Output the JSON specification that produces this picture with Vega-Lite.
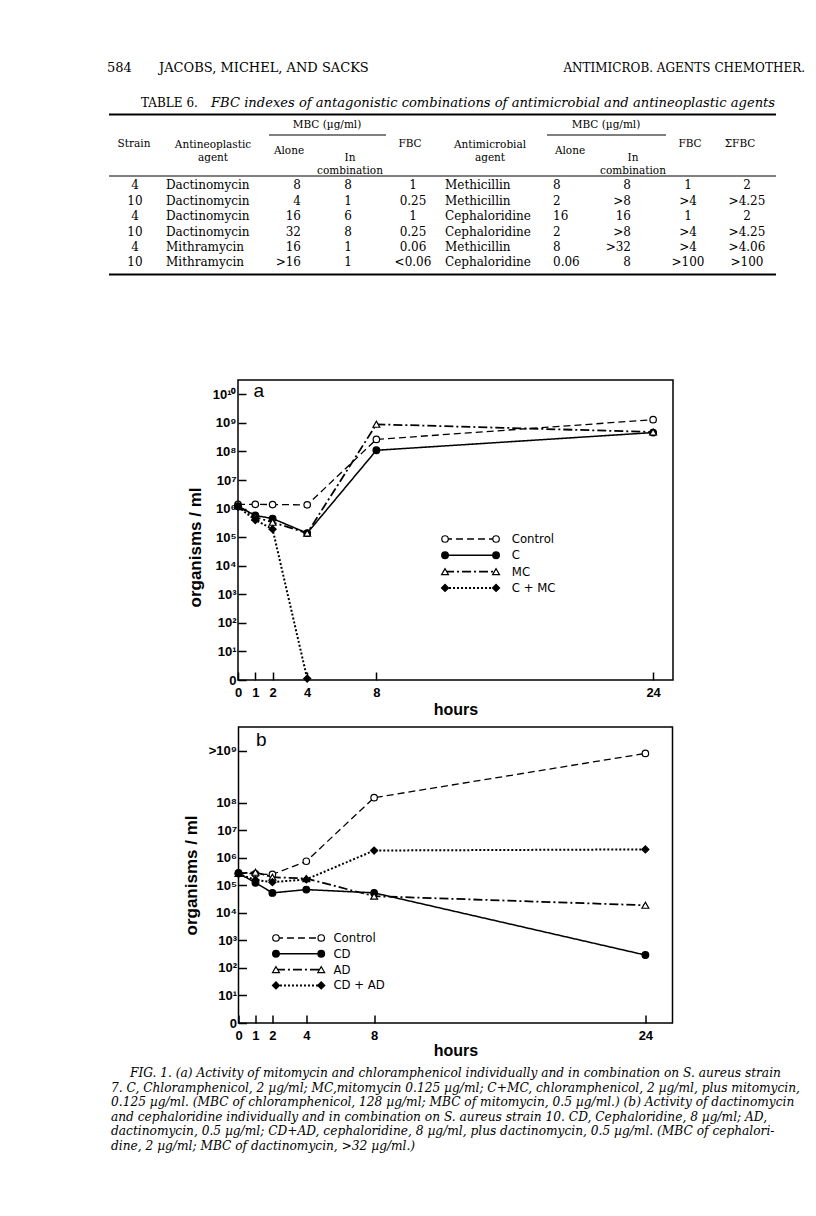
{
  "$schema": "https://vega.github.io/schema/vega-lite/v6.json",
  "background": "white",
  "padding": {"left": 107, "top": 43, "right": 5, "bottom": 5},
  "bounds": "flush",
  "center": true,
  "spacing": 47,
  "config": {"view": {"stroke": null}, "axis": {"grid": false}},
  "resolve": {"scale": {"strokeDash": "independent", "shape": "independent", "fill": "independent", "size": "independent", "strokeWidth": "independent"}},
  "datasets": {
    "table": [
      {"row": 0, "strain": "4", "agent1": "Dactinomycin", "alone1": "8", "comb1": "8", "fbc1": "1", "agent2": "Methicillin", "alone2": "8", "comb2": "8", "fbc2": "1", "sum": "2"},
      {"row": 1, "strain": "10", "agent1": "Dactinomycin", "alone1": "4", "comb1": "1", "fbc1": "0.25", "agent2": "Methicillin", "alone2": "2", "comb2": ">8", "fbc2": ">4", "sum": ">4.25"},
      {"row": 2, "strain": "4", "agent1": "Dactinomycin", "alone1": "16", "comb1": "6", "fbc1": "1", "agent2": "Cephaloridine", "alone2": "16", "comb2": "16", "fbc2": "1", "sum": "2"},
      {"row": 3, "strain": "10", "agent1": "Dactinomycin", "alone1": "32", "comb1": "8", "fbc1": "0.25", "agent2": "Cephaloridine", "alone2": "2", "comb2": ">8", "fbc2": ">4", "sum": ">4.25"},
      {"row": 4, "strain": "4", "agent1": "Mithramycin", "alone1": "16", "comb1": "1", "fbc1": "0.06", "agent2": "Methicillin", "alone2": "8", "comb2": ">32", "fbc2": ">4", "sum": ">4.06"},
      {"row": 5, "strain": "10", "agent1": "Mithramycin", "alone1": ">16", "comb1": "1", "fbc1": "<0.06", "agent2": "Cephaloridine", "alone2": "0.06", "comb2": "8", "fbc2": ">100", "sum": ">100"}
    ],
    "a": [
      {"hours": 0, "log10": 6.15, "series": "Control"},
      {"hours": 1, "log10": 6.15, "series": "Control"},
      {"hours": 2, "log10": 6.14, "series": "Control"},
      {"hours": 4, "log10": 6.13, "series": "Control"},
      {"hours": 8, "log10": 8.42, "series": "Control"},
      {"hours": 24, "log10": 9.11, "series": "Control"},
      {"hours": 0, "log10": 6.08, "series": "C"},
      {"hours": 1, "log10": 5.76, "series": "C"},
      {"hours": 2, "log10": 5.65, "series": "C"},
      {"hours": 4, "log10": 5.14, "series": "C"},
      {"hours": 8, "log10": 8.04, "series": "C"},
      {"hours": 24, "log10": 8.66, "series": "C"},
      {"hours": 0, "log10": 6.1, "series": "MC"},
      {"hours": 1, "log10": 5.7, "series": "MC"},
      {"hours": 2, "log10": 5.52, "series": "MC"},
      {"hours": 4, "log10": 5.14, "series": "MC"},
      {"hours": 8, "log10": 8.95, "series": "MC"},
      {"hours": 24, "log10": 8.68, "series": "MC"},
      {"hours": 0, "log10": 6.06, "series": "C+MC"},
      {"hours": 1, "log10": 5.6, "series": "C+MC"},
      {"hours": 2, "log10": 5.28, "series": "C+MC"},
      {"hours": 4, "log10": 0.05, "series": "C+MC"}
    ],
    "b": [
      {"hours": 0, "log10": 5.46, "series": "Control"},
      {"hours": 1, "log10": 5.42, "series": "Control"},
      {"hours": 2, "log10": 5.4, "series": "Control"},
      {"hours": 4, "log10": 5.88, "series": "Control"},
      {"hours": 8, "log10": 8.19, "series": "Control"},
      {"hours": 24, "log10": 9.8, "series": "Control"},
      {"hours": 0, "log10": 5.44, "series": "CD"},
      {"hours": 1, "log10": 5.1, "series": "CD"},
      {"hours": 2, "log10": 4.73, "series": "CD"},
      {"hours": 4, "log10": 4.85, "series": "CD"},
      {"hours": 8, "log10": 4.73, "series": "CD"},
      {"hours": 24, "log10": 2.47, "series": "CD"},
      {"hours": 0, "log10": 5.44, "series": "AD"},
      {"hours": 1, "log10": 5.48, "series": "AD"},
      {"hours": 2, "log10": 5.3, "series": "AD"},
      {"hours": 4, "log10": 5.25, "series": "AD"},
      {"hours": 8, "log10": 4.61, "series": "AD"},
      {"hours": 24, "log10": 4.28, "series": "AD"},
      {"hours": 0, "log10": 5.42, "series": "CD+AD"},
      {"hours": 1, "log10": 5.2, "series": "CD+AD"},
      {"hours": 2, "log10": 5.12, "series": "CD+AD"},
      {"hours": 4, "log10": 5.22, "series": "CD+AD"},
      {"hours": 8, "log10": 6.27, "series": "CD+AD"},
      {"hours": 24, "log10": 6.31, "series": "CD+AD"}
    ],
    "legA": [
      {"series": "Control", "label": "Control", "ord": 0},
      {"series": "C", "label": "C", "ord": 1},
      {"series": "MC", "label": "MC", "ord": 2},
      {"series": "C+MC", "label": "C + MC", "ord": 3}
    ],
    "legB": [
      {"series": "Control", "label": "Control", "ord": 0},
      {"series": "CD", "label": "CD", "ord": 1},
      {"series": "AD", "label": "AD", "ord": 2},
      {"series": "CD+AD", "label": "CD + AD", "ord": 3}
    ],
    "caption": [
      {"line": 0, "text": "FIG. 1. (a) Activity of mitomycin and chloramphenicol individually and in combination on S. aureus strain"},
      {"line": 1, "text": "7. C, Chloramphenicol, 2 µg/ml; MC,mitomycin 0.125 µg/ml; C+MC, chloramphenicol, 2 µg/ml, plus mitomycin,"},
      {"line": 2, "text": "0.125 µg/ml. (MBC of chloramphenicol, 128 µg/ml; MBC of mitomycin, 0.5 µg/ml.) (b) Activity of dactinomycin"},
      {"line": 3, "text": "and cephaloridine individually and in combination on S. aureus strain 10. CD, Cephaloridine, 8 µg/ml; AD,"},
      {"line": 4, "text": "dactinomycin, 0.5 µg/ml; CD+AD, cephaloridine, 8 µg/ml, plus dactinomycin, 0.5 µg/ml. (MBC of cephalori-"},
      {"line": 5, "text": "dine, 2 µg/ml; MBC of dactinomycin, >32 µg/ml.)"}
    ]
  },
  "vconcat": [
    {
      "width": 697,
      "height": 290,
      "data": {"values": [{}]},
      "resolve": {"scale": {"y": "independent"}},
      "layer": [
        {"mark": {"type": "text", "text": "584", "font": "DejaVu Serif", "fontSize": 13, "align": "left", "baseline": "middle"},
         "encoding": {"x": {"datum": 0, "type": "quantitative", "scale": {"domain": [0, 697]}, "axis": null}, "y": {"datum": 25, "type": "quantitative", "scale": {"domain": [0, 290], "reverse": true}, "axis": null}}},
        {"mark": {"type": "text", "text": "JACOBS, MICHEL, AND SACKS", "font": "DejaVu Serif", "fontSize": 13, "align": "left", "baseline": "middle"},
         "encoding": {"x": {"datum": 52, "type": "quantitative", "scale": {"domain": [0, 697]}, "axis": null}, "y": {"datum": 25, "type": "quantitative", "scale": {"domain": [0, 290], "reverse": true}, "axis": null}}},
        {"mark": {"type": "text", "text": "ANTIMICROB. AGENTS CHEMOTHER.", "font": "DejaVu Serif", "fontSize": 12, "align": "right", "baseline": "middle"},
         "encoding": {"x": {"datum": 698, "type": "quantitative", "scale": {"domain": [0, 697]}, "axis": null}, "y": {"datum": 25, "type": "quantitative", "scale": {"domain": [0, 290], "reverse": true}, "axis": null}}},
        {"mark": {"type": "text", "text": "TABLE 6.", "font": "DejaVu Serif", "fontSize": 12, "align": "left", "baseline": "middle"},
         "encoding": {"x": {"datum": 34, "type": "quantitative", "scale": {"domain": [0, 697]}, "axis": null}, "y": {"datum": 60, "type": "quantitative", "scale": {"domain": [0, 290], "reverse": true}, "axis": null}}},
        {"mark": {"type": "text", "text": "FBC indexes of antagonistic combinations of antimicrobial and antineoplastic agents", "font": "DejaVu Serif", "fontStyle": "italic", "fontSize": 13.1, "align": "left", "baseline": "middle"},
         "encoding": {"x": {"datum": 104, "type": "quantitative", "scale": {"domain": [0, 697]}, "axis": null}, "y": {"datum": 60, "type": "quantitative", "scale": {"domain": [0, 290], "reverse": true}, "axis": null}}},
        {"mark": {"type": "rule", "color": "black", "strokeWidth": 2},
         "encoding": {"x": {"datum": 2, "type": "quantitative", "scale": {"domain": [0, 697]}, "axis": null}, "x2": {"datum": 669}, "y": {"datum": 71.5, "type": "quantitative", "scale": {"domain": [0, 290], "reverse": true}, "axis": null}}},
        {"mark": {"type": "rule", "color": "black", "strokeWidth": 1},
         "encoding": {"x": {"datum": 162, "type": "quantitative", "scale": {"domain": [0, 697]}, "axis": null}, "x2": {"datum": 279}, "y": {"datum": 92, "type": "quantitative", "scale": {"domain": [0, 290], "reverse": true}, "axis": null}}},
        {"mark": {"type": "rule", "color": "black", "strokeWidth": 1},
         "encoding": {"x": {"datum": 440, "type": "quantitative", "scale": {"domain": [0, 697]}, "axis": null}, "x2": {"datum": 559}, "y": {"datum": 92, "type": "quantitative", "scale": {"domain": [0, 290], "reverse": true}, "axis": null}}},
        {"mark": {"type": "rule", "color": "black", "strokeWidth": 1},
         "encoding": {"x": {"datum": 2, "type": "quantitative", "scale": {"domain": [0, 697]}, "axis": null}, "x2": {"datum": 669}, "y": {"datum": 133, "type": "quantitative", "scale": {"domain": [0, 290], "reverse": true}, "axis": null}}},
        {"mark": {"type": "rule", "color": "black", "strokeWidth": 2},
         "encoding": {"x": {"datum": 2, "type": "quantitative", "scale": {"domain": [0, 697]}, "axis": null}, "x2": {"datum": 669}, "y": {"datum": 231.5, "type": "quantitative", "scale": {"domain": [0, 290], "reverse": true}, "axis": null}}},
        {"mark": {"type": "text", "text": "Strain", "font": "DejaVu Serif", "fontSize": 10.5, "align": "center", "baseline": "middle"},
         "encoding": {"x": {"datum": 27, "type": "quantitative", "scale": {"domain": [0, 697]}, "axis": null}, "y": {"datum": 101, "type": "quantitative", "scale": {"domain": [0, 290], "reverse": true}, "axis": null}}},
        {"mark": {"type": "text", "text": "Antineoplastic\nagent", "lineBreak": "\n", "lineHeight": 13, "font": "DejaVu Serif", "fontSize": 10.5, "align": "center", "baseline": "middle"},
         "encoding": {"x": {"datum": 106, "type": "quantitative", "scale": {"domain": [0, 697]}, "axis": null}, "y": {"datum": 101.5, "type": "quantitative", "scale": {"domain": [0, 290], "reverse": true}, "axis": null}}},
        {"mark": {"type": "text", "text": "MBC (µg/ml)", "font": "DejaVu Serif", "fontSize": 10.5, "align": "center", "baseline": "middle"},
         "encoding": {"x": {"datum": 220, "type": "quantitative", "scale": {"domain": [0, 697]}, "axis": null}, "y": {"datum": 82, "type": "quantitative", "scale": {"domain": [0, 290], "reverse": true}, "axis": null}}},
        {"mark": {"type": "text", "text": "Alone", "font": "DejaVu Serif", "fontSize": 10.5, "align": "center", "baseline": "middle"},
         "encoding": {"x": {"datum": 182, "type": "quantitative", "scale": {"domain": [0, 697]}, "axis": null}, "y": {"datum": 108, "type": "quantitative", "scale": {"domain": [0, 290], "reverse": true}, "axis": null}}},
        {"mark": {"type": "text", "text": "In\ncombination", "lineBreak": "\n", "lineHeight": 13, "font": "DejaVu Serif", "fontSize": 10.5, "align": "center", "baseline": "middle"},
         "encoding": {"x": {"datum": 243, "type": "quantitative", "scale": {"domain": [0, 697]}, "axis": null}, "y": {"datum": 114.5, "type": "quantitative", "scale": {"domain": [0, 290], "reverse": true}, "axis": null}}},
        {"mark": {"type": "text", "text": "FBC", "font": "DejaVu Serif", "fontSize": 10.5, "align": "center", "baseline": "middle"},
         "encoding": {"x": {"datum": 303, "type": "quantitative", "scale": {"domain": [0, 697]}, "axis": null}, "y": {"datum": 101, "type": "quantitative", "scale": {"domain": [0, 290], "reverse": true}, "axis": null}}},
        {"mark": {"type": "text", "text": "Antimicrobial\nagent", "lineBreak": "\n", "lineHeight": 13, "font": "DejaVu Serif", "fontSize": 10.5, "align": "center", "baseline": "middle"},
         "encoding": {"x": {"datum": 383, "type": "quantitative", "scale": {"domain": [0, 697]}, "axis": null}, "y": {"datum": 101.5, "type": "quantitative", "scale": {"domain": [0, 290], "reverse": true}, "axis": null}}},
        {"mark": {"type": "text", "text": "MBC (µg/ml)", "font": "DejaVu Serif", "fontSize": 10.5, "align": "center", "baseline": "middle"},
         "encoding": {"x": {"datum": 499, "type": "quantitative", "scale": {"domain": [0, 697]}, "axis": null}, "y": {"datum": 82, "type": "quantitative", "scale": {"domain": [0, 290], "reverse": true}, "axis": null}}},
        {"mark": {"type": "text", "text": "Alone", "font": "DejaVu Serif", "fontSize": 10.5, "align": "center", "baseline": "middle"},
         "encoding": {"x": {"datum": 463, "type": "quantitative", "scale": {"domain": [0, 697]}, "axis": null}, "y": {"datum": 108, "type": "quantitative", "scale": {"domain": [0, 290], "reverse": true}, "axis": null}}},
        {"mark": {"type": "text", "text": "In\ncombination", "lineBreak": "\n", "lineHeight": 13, "font": "DejaVu Serif", "fontSize": 10.5, "align": "center", "baseline": "middle"},
         "encoding": {"x": {"datum": 526, "type": "quantitative", "scale": {"domain": [0, 697]}, "axis": null}, "y": {"datum": 114.5, "type": "quantitative", "scale": {"domain": [0, 290], "reverse": true}, "axis": null}}},
        {"mark": {"type": "text", "text": "FBC", "font": "DejaVu Serif", "fontSize": 10.5, "align": "center", "baseline": "middle"},
         "encoding": {"x": {"datum": 583, "type": "quantitative", "scale": {"domain": [0, 697]}, "axis": null}, "y": {"datum": 101, "type": "quantitative", "scale": {"domain": [0, 290], "reverse": true}, "axis": null}}},
        {"mark": {"type": "text", "text": "ΣFBC", "font": "DejaVu Serif", "fontSize": 10.5, "align": "center", "baseline": "middle"},
         "encoding": {"x": {"datum": 633, "type": "quantitative", "scale": {"domain": [0, 697]}, "axis": null}, "y": {"datum": 101, "type": "quantitative", "scale": {"domain": [0, 290], "reverse": true}, "axis": null}}},
        {"data": {"name": "table"}, "mark": {"type": "text", "font": "DejaVu Serif", "fontSize": 12, "align": "center", "baseline": "middle"},
         "encoding": {"x": {"datum": 28, "type": "quantitative", "scale": {"domain": [0, 697]}, "axis": null}, "y": {"field": "row", "type": "quantitative", "scale": {"domain": [-9.253, 9.578], "reverse": true, "nice": false, "zero": false}, "axis": null}, "text": {"field": "strain"}}},
        {"data": {"name": "table"}, "mark": {"type": "text", "font": "DejaVu Serif", "fontSize": 12, "align": "left", "baseline": "middle"},
         "encoding": {"x": {"datum": 59, "type": "quantitative", "scale": {"domain": [0, 697]}, "axis": null}, "y": {"field": "row", "type": "quantitative", "scale": {"domain": [-9.253, 9.578], "reverse": true, "nice": false, "zero": false}, "axis": null}, "text": {"field": "agent1"}}},
        {"data": {"name": "table"}, "mark": {"type": "text", "font": "DejaVu Serif", "fontSize": 12, "align": "right", "baseline": "middle"},
         "encoding": {"x": {"datum": 194, "type": "quantitative", "scale": {"domain": [0, 697]}, "axis": null}, "y": {"field": "row", "type": "quantitative", "scale": {"domain": [-9.253, 9.578], "reverse": true, "nice": false, "zero": false}, "axis": null}, "text": {"field": "alone1"}}},
        {"data": {"name": "table"}, "mark": {"type": "text", "font": "DejaVu Serif", "fontSize": 12, "align": "center", "baseline": "middle"},
         "encoding": {"x": {"datum": 241, "type": "quantitative", "scale": {"domain": [0, 697]}, "axis": null}, "y": {"field": "row", "type": "quantitative", "scale": {"domain": [-9.253, 9.578], "reverse": true, "nice": false, "zero": false}, "axis": null}, "text": {"field": "comb1"}}},
        {"data": {"name": "table"}, "mark": {"type": "text", "font": "DejaVu Serif", "fontSize": 12, "align": "center", "baseline": "middle"},
         "encoding": {"x": {"datum": 306, "type": "quantitative", "scale": {"domain": [0, 697]}, "axis": null}, "y": {"field": "row", "type": "quantitative", "scale": {"domain": [-9.253, 9.578], "reverse": true, "nice": false, "zero": false}, "axis": null}, "text": {"field": "fbc1"}}},
        {"data": {"name": "table"}, "mark": {"type": "text", "font": "DejaVu Serif", "fontSize": 12, "align": "left", "baseline": "middle"},
         "encoding": {"x": {"datum": 338, "type": "quantitative", "scale": {"domain": [0, 697]}, "axis": null}, "y": {"field": "row", "type": "quantitative", "scale": {"domain": [-9.253, 9.578], "reverse": true, "nice": false, "zero": false}, "axis": null}, "text": {"field": "agent2"}}},
        {"data": {"name": "table"}, "mark": {"type": "text", "font": "DejaVu Serif", "fontSize": 12, "align": "left", "baseline": "middle"},
         "encoding": {"x": {"datum": 446, "type": "quantitative", "scale": {"domain": [0, 697]}, "axis": null}, "y": {"field": "row", "type": "quantitative", "scale": {"domain": [-9.253, 9.578], "reverse": true, "nice": false, "zero": false}, "axis": null}, "text": {"field": "alone2"}}},
        {"data": {"name": "table"}, "mark": {"type": "text", "font": "DejaVu Serif", "fontSize": 12, "align": "right", "baseline": "middle"},
         "encoding": {"x": {"datum": 524, "type": "quantitative", "scale": {"domain": [0, 697]}, "axis": null}, "y": {"field": "row", "type": "quantitative", "scale": {"domain": [-9.253, 9.578], "reverse": true, "nice": false, "zero": false}, "axis": null}, "text": {"field": "comb2"}}},
        {"data": {"name": "table"}, "mark": {"type": "text", "font": "DejaVu Serif", "fontSize": 12, "align": "center", "baseline": "middle"},
         "encoding": {"x": {"datum": 581, "type": "quantitative", "scale": {"domain": [0, 697]}, "axis": null}, "y": {"field": "row", "type": "quantitative", "scale": {"domain": [-9.253, 9.578], "reverse": true, "nice": false, "zero": false}, "axis": null}, "text": {"field": "fbc2"}}},
        {"data": {"name": "table"}, "mark": {"type": "text", "font": "DejaVu Serif", "fontSize": 12, "align": "center", "baseline": "middle"},
         "encoding": {"x": {"datum": 640, "type": "quantitative", "scale": {"domain": [0, 697]}, "axis": null}, "y": {"field": "row", "type": "quantitative", "scale": {"domain": [-9.253, 9.578], "reverse": true, "nice": false, "zero": false}, "axis": null}, "text": {"field": "sum"}}}
      ]
    },
    {
      "width": 435,
      "height": 300,
      "view": {"stroke": "black", "strokeWidth": 1.5},
      "resolve": {"scale": {"y": "independent"}},
      "layer": [
        {"data": {"name": "a"}, "mark": {"type": "line", "color": "black"},
         "encoding": {
           "x": {"field": "hours", "type": "quantitative", "scale": {"domain": [0, 25.15], "nice": false, "zero": false},
                 "axis": {"values": [0, 1, 2, 4, 8, 24], "tickSize": -8, "tickWidth": 1.5, "tickColor": "black", "domain": false, "labelPadding": 14, "labelFont": "Liberation Sans", "labelFontWeight": "bold", "labelFontSize": 13, "labelColor": "black", "labelFlush": false, "labelOverlap": false, "title": "hours", "titleFont": "Liberation Sans", "titleFontSize": 16, "titleFontWeight": "bold", "titleColor": "black", "titlePadding": 2}},
           "y": {"field": "log10", "type": "quantitative", "scale": {"domain": [0, 10.5], "nice": false, "zero": false},
                 "axis": {"values": [0, 1, 2, 3, 4, 5, 6, 7, 8, 9, 10], "tickSize": -8, "tickWidth": 1.5, "tickColor": "black", "domain": false, "labelPadding": 10, "labelExpr": "datum.value == 0 ? '0' : '10' + ['⁰','¹','²','³','⁴','⁵','⁶','⁷','⁸','⁹','¹⁰'][datum.value]", "labelFont": "Liberation Sans", "labelFontWeight": "bold", "labelFontSize": 13, "labelColor": "black", "labelFlush": false, "labelOverlap": false, "title": "organisms / ml", "titleFont": "Liberation Sans", "titleFontSize": 17, "titleFontWeight": "bold", "titleColor": "black", "titlePadding": 8, "titleY": 167}},
           "strokeDash": {"field": "series", "type": "nominal", "scale": {"domain": ["Control", "C", "MC", "C+MC"], "range": [[7, 4], [1, 0], [9, 3, 2, 3], [2, 2]]}, "legend": null},
           "strokeWidth": {"field": "series", "type": "nominal", "scale": {"domain": ["Control", "C", "MC", "C+MC"], "range": [1.3, 2, 1.3, 1.6]}, "legend": null}
         }},
        {"data": {"name": "a"}, "mark": {"type": "point", "filled": true, "stroke": "black", "strokeWidth": 1.2, "opacity": 1},
         "encoding": {
           "x": {"field": "hours", "type": "quantitative"},
           "y": {"field": "log10", "type": "quantitative", "scale": {"domain": [0, 10.5], "nice": false, "zero": false}, "axis": null},
           "shape": {"field": "series", "type": "nominal", "scale": {"domain": ["Control", "C", "MC", "C+MC"], "range": ["circle", "circle", "triangle-up", "diamond"]}, "legend": null},
           "fill": {"field": "series", "type": "nominal", "scale": {"domain": ["Control", "C", "MC", "C+MC"], "range": ["white", "black", "white", "black"]}, "legend": null},
           "size": {"field": "series", "type": "nominal", "scale": {"domain": ["Control", "C", "MC", "C+MC"], "range": [42, 50, 50, 70]}, "legend": null}
         }},
        {"data": {"name": "legA"}, "mark": {"type": "rule", "color": "black"},
         "encoding": {
           "x": {"datum": 11.97, "type": "quantitative"}, "x2": {"datum": 14.92},
           "y": {"field": "ord", "type": "quantitative", "scale": {"domain": [-9.755, 8.65], "reverse": true, "nice": false, "zero": false}, "axis": null},
           "strokeDash": {"field": "series", "type": "nominal", "scale": {"domain": ["Control", "C", "MC", "C+MC"], "range": [[7, 4], [1, 0], [9, 3, 2, 3], [2, 2]]}, "legend": null},
           "strokeWidth": {"field": "series", "type": "nominal", "scale": {"domain": ["Control", "C", "MC", "C+MC"], "range": [1.3, 2, 1.3, 1.6]}, "legend": null}
         }},
        {"data": {"name": "legA"}, "mark": {"type": "point", "filled": true, "stroke": "black", "strokeWidth": 1.2, "opacity": 1},
         "encoding": {
           "x": {"datum": 11.97, "type": "quantitative"},
           "y": {"field": "ord", "type": "quantitative", "scale": {"domain": [-9.755, 8.65], "reverse": true, "nice": false, "zero": false}, "axis": null},
           "shape": {"field": "series", "type": "nominal", "scale": {"domain": ["Control", "C", "MC", "C+MC"], "range": ["circle", "circle", "triangle-up", "diamond"]}, "legend": null},
           "fill": {"field": "series", "type": "nominal", "scale": {"domain": ["Control", "C", "MC", "C+MC"], "range": ["white", "black", "white", "black"]}, "legend": null},
           "size": {"field": "series", "type": "nominal", "scale": {"domain": ["Control", "C", "MC", "C+MC"], "range": [42, 50, 50, 70]}, "legend": null}
         }},
        {"data": {"name": "legA"}, "mark": {"type": "point", "filled": true, "stroke": "black", "strokeWidth": 1.2, "opacity": 1},
         "encoding": {
           "x": {"datum": 14.92, "type": "quantitative"},
           "y": {"field": "ord", "type": "quantitative", "scale": {"domain": [-9.755, 8.65], "reverse": true, "nice": false, "zero": false}, "axis": null},
           "shape": {"field": "series", "type": "nominal", "scale": {"domain": ["Control", "C", "MC", "C+MC"], "range": ["circle", "circle", "triangle-up", "diamond"]}, "legend": null},
           "fill": {"field": "series", "type": "nominal", "scale": {"domain": ["Control", "C", "MC", "C+MC"], "range": ["white", "black", "white", "black"]}, "legend": null},
           "size": {"field": "series", "type": "nominal", "scale": {"domain": ["Control", "C", "MC", "C+MC"], "range": [42, 50, 50, 70]}, "legend": null}
         }},
        {"data": {"name": "legA"}, "mark": {"type": "text", "align": "left", "baseline": "middle", "font": "DejaVu Sans Condensed, Liberation Sans Narrow, DejaVu Sans", "fontSize": 13, "color": "black"},
         "encoding": {
           "x": {"datum": 15.83, "type": "quantitative"},
           "y": {"field": "ord", "type": "quantitative", "scale": {"domain": [-9.755, 8.65], "reverse": true, "nice": false, "zero": false}, "axis": null},
           "text": {"field": "label"}
         }},
        {"data": {"values": [{}]}, "mark": {"type": "text", "text": "a", "font": "Liberation Sans", "fontSize": 19, "align": "center", "baseline": "middle", "color": "black"},
         "encoding": {
           "x": {"datum": 1.2, "type": "quantitative"},
           "y": {"datum": 10.13, "type": "quantitative", "scale": {"domain": [0, 10.5], "nice": false, "zero": false}, "axis": null}
         }}
      ]
    },
    {
      "width": 434,
      "height": 296,
      "view": {"stroke": "black", "strokeWidth": 1.5},
      "resolve": {"scale": {"y": "independent"}},
      "layer": [
        {"data": {"name": "b"}, "mark": {"type": "line", "color": "black"},
         "encoding": {
           "x": {"field": "hours", "type": "quantitative", "scale": {"domain": [0, 25.6], "nice": false, "zero": false},
                 "axis": {"values": [0, 1, 2, 4, 8, 24], "tickSize": -8, "tickWidth": 1.5, "tickColor": "black", "domain": false, "labelPadding": 14, "labelFont": "Liberation Sans", "labelFontWeight": "bold", "labelFontSize": 13, "labelColor": "black", "labelFlush": false, "labelOverlap": false, "title": "hours", "titleFont": "Liberation Sans", "titleFontSize": 16, "titleFontWeight": "bold", "titleColor": "black", "titlePadding": 0}},
           "y": {"field": "log10", "type": "quantitative", "scale": {"domain": [0, 10.76], "nice": false, "zero": false},
                 "axis": {"values": [0, 1, 2, 3, 4, 5, 6, 7, 8, 9.9], "tickSize": -8, "tickWidth": 1.5, "tickColor": "black", "domain": false, "labelPadding": 10, "labelExpr": "datum.value == 0 ? '0' : datum.value > 9 ? '>10⁹' : '10' + ['⁰','¹','²','³','⁴','⁵','⁶','⁷','⁸','⁹'][datum.value]", "labelFont": "Liberation Sans", "labelFontWeight": "bold", "labelFontSize": 13, "labelColor": "black", "labelFlush": false, "labelOverlap": false, "title": "organisms / ml", "titleFont": "Liberation Sans", "titleFontSize": 17, "titleFontWeight": "bold", "titleColor": "black", "titlePadding": 8}},
           "strokeDash": {"field": "series", "type": "nominal", "scale": {"domain": ["Control", "CD", "AD", "CD+AD"], "range": [[7, 4], [1, 0], [9, 3, 2, 3], [2, 2]]}, "legend": null},
           "strokeWidth": {"field": "series", "type": "nominal", "scale": {"domain": ["Control", "CD", "AD", "CD+AD"], "range": [1.3, 2, 1.3, 1.6]}, "legend": null}
         }},
        {"data": {"name": "b"}, "mark": {"type": "point", "filled": true, "stroke": "black", "strokeWidth": 1.2, "opacity": 1},
         "encoding": {
           "x": {"field": "hours", "type": "quantitative"},
           "y": {"field": "log10", "type": "quantitative", "scale": {"domain": [0, 10.76], "nice": false, "zero": false}, "axis": null},
           "shape": {"field": "series", "type": "nominal", "scale": {"domain": ["Control", "CD", "AD", "CD+AD"], "range": ["circle", "circle", "triangle-up", "diamond"]}, "legend": null},
           "fill": {"field": "series", "type": "nominal", "scale": {"domain": ["Control", "CD", "AD", "CD+AD"], "range": ["white", "black", "white", "black"]}, "legend": null},
           "size": {"field": "series", "type": "nominal", "scale": {"domain": ["Control", "CD", "AD", "CD+AD"], "range": [42, 50, 50, 70]}, "legend": null}
         }},
        {"data": {"name": "legB"}, "mark": {"type": "rule", "color": "black"},
         "encoding": {
           "x": {"datum": 2.21, "type": "quantitative"}, "x2": {"datum": 4.88},
           "y": {"field": "ord", "type": "quantitative", "scale": {"domain": [-13.35, 5.38], "reverse": true, "nice": false, "zero": false}, "axis": null},
           "strokeDash": {"field": "series", "type": "nominal", "scale": {"domain": ["Control", "CD", "AD", "CD+AD"], "range": [[7, 4], [1, 0], [9, 3, 2, 3], [2, 2]]}, "legend": null},
           "strokeWidth": {"field": "series", "type": "nominal", "scale": {"domain": ["Control", "CD", "AD", "CD+AD"], "range": [1.3, 2, 1.3, 1.6]}, "legend": null}
         }},
        {"data": {"name": "legB"}, "mark": {"type": "point", "filled": true, "stroke": "black", "strokeWidth": 1.2, "opacity": 1},
         "encoding": {
           "x": {"datum": 2.21, "type": "quantitative"},
           "y": {"field": "ord", "type": "quantitative", "scale": {"domain": [-13.35, 5.38], "reverse": true, "nice": false, "zero": false}, "axis": null},
           "shape": {"field": "series", "type": "nominal", "scale": {"domain": ["Control", "CD", "AD", "CD+AD"], "range": ["circle", "circle", "triangle-up", "diamond"]}, "legend": null},
           "fill": {"field": "series", "type": "nominal", "scale": {"domain": ["Control", "CD", "AD", "CD+AD"], "range": ["white", "black", "white", "black"]}, "legend": null},
           "size": {"field": "series", "type": "nominal", "scale": {"domain": ["Control", "CD", "AD", "CD+AD"], "range": [42, 50, 50, 70]}, "legend": null}
         }},
        {"data": {"name": "legB"}, "mark": {"type": "point", "filled": true, "stroke": "black", "strokeWidth": 1.2, "opacity": 1},
         "encoding": {
           "x": {"datum": 4.88, "type": "quantitative"},
           "y": {"field": "ord", "type": "quantitative", "scale": {"domain": [-13.35, 5.38], "reverse": true, "nice": false, "zero": false}, "axis": null},
           "shape": {"field": "series", "type": "nominal", "scale": {"domain": ["Control", "CD", "AD", "CD+AD"], "range": ["circle", "circle", "triangle-up", "diamond"]}, "legend": null},
           "fill": {"field": "series", "type": "nominal", "scale": {"domain": ["Control", "CD", "AD", "CD+AD"], "range": ["white", "black", "white", "black"]}, "legend": null},
           "size": {"field": "series", "type": "nominal", "scale": {"domain": ["Control", "CD", "AD", "CD+AD"], "range": [42, 50, 50, 70]}, "legend": null}
         }},
        {"data": {"name": "legB"}, "mark": {"type": "text", "align": "left", "baseline": "middle", "font": "DejaVu Sans Condensed, Liberation Sans Narrow, DejaVu Sans", "fontSize": 13, "color": "black"},
         "encoding": {
           "x": {"datum": 5.6, "type": "quantitative"},
           "y": {"field": "ord", "type": "quantitative", "scale": {"domain": [-13.35, 5.38], "reverse": true, "nice": false, "zero": false}, "axis": null},
           "text": {"field": "label"}
         }},
        {"data": {"values": [{}]}, "mark": {"type": "text", "text": "b", "font": "Liberation Sans", "fontSize": 19, "align": "center", "baseline": "middle", "color": "black"},
         "encoding": {
           "x": {"datum": 1.34, "type": "quantitative"},
           "y": {"datum": 10.28, "type": "quantitative", "scale": {"domain": [0, 10.76], "nice": false, "zero": false}, "axis": null}
         }}
      ]
    },
    {
      "width": 697,
      "height": 90,
      "data": {"name": "caption"},
      "layer": [
        {"transform": [{"filter": "datum.line == 0"}],
         "mark": {"type": "text", "align": "left", "baseline": "middle", "font": "DejaVu Serif", "fontStyle": "italic", "fontSize": 12.2, "color": "black"},
         "encoding": {
           "x": {"datum": 23, "type": "quantitative", "scale": {"domain": [0, 697]}, "axis": null},
           "y": {"field": "line", "type": "quantitative", "scale": {"domain": [-0.205, 5.96], "reverse": true, "nice": false, "zero": false}, "axis": null},
           "text": {"field": "text"}
         }},
        {"transform": [{"filter": "datum.line > 0"}],
         "mark": {"type": "text", "align": "left", "baseline": "middle", "font": "DejaVu Serif", "fontStyle": "italic", "fontSize": 12.2, "color": "black"},
         "encoding": {
           "x": {"datum": 4, "type": "quantitative", "scale": {"domain": [0, 697]}, "axis": null},
           "y": {"field": "line", "type": "quantitative", "scale": {"domain": [-0.205, 5.96], "reverse": true, "nice": false, "zero": false}, "axis": null},
           "text": {"field": "text"}
         }}
      ]
    }
  ]
}
